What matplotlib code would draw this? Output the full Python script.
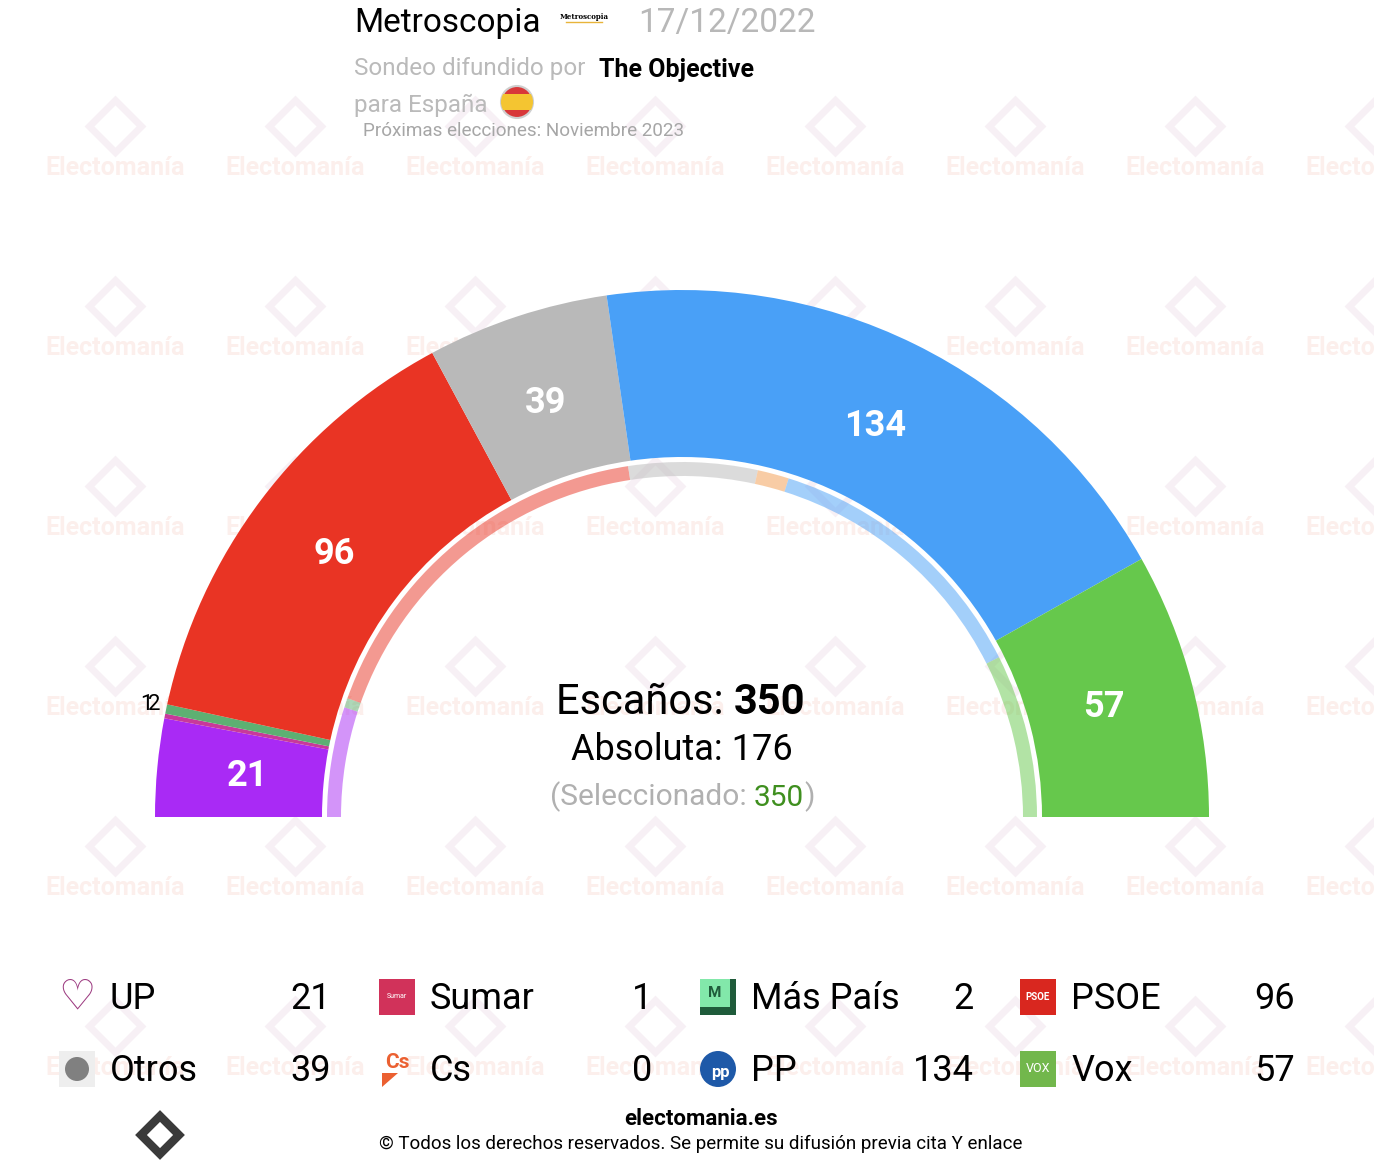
import matplotlib.pyplot as plt
from matplotlib.patches import Rectangle, Circle, Polygon
import numpy as np

plt.rcParams['font.family'] = ['Roboto', 'DejaVu Sans']

# seat data (left to right on the arc)
parties = ['UP', 'Sumar', 'Más País', 'PSOE', 'Otros', 'Cs', 'PP', 'Vox']
seats = [21, 1, 2, 96, 39, 0, 134, 57]
prev_seats = [35, 0, 3, 120, 41, 10, 89, 52]
colors = ['#A92AF5', '#C8399A', '#5DB072', '#E93424', '#B9B9B9', '#F29B4C', '#49A0F7', '#66C84C']

# legend layout order (two rows)
legend_rows = [['UP', 'Sumar', 'Más País', 'PSOE'], ['Otros', 'Cs', 'PP', 'Vox']]

total = sum(seats)
majority = total // 2 + 1

W, H = 1374, 1164
fig = plt.figure(figsize=(W / 100, H / 100), dpi=100)
ax = fig.add_axes([0, 0, 1, 1])


def Y(y):
    return H - y


cx, cy = 682, Y(817)

# watermark grid
for gx in range(115, 1400, 180):
    for gy in range(168, 1100, 180):
        ax.plot(gx, Y(gy - 42), marker='D', markersize=26, mfc='none',
                mec='#f7f0f5', mew=5, zorder=0)
        ax.text(gx, Y(gy), 'Electomanía', fontsize=18, fontweight='bold',
                color='#fcefec', ha='center', va='center', zorder=0, clip_on=True)

# outer ring: current seats
ax.pie(seats + [total], radius=527, center=(cx, cy), startangle=180, counterclock=False,
       colors=colors + ['none'], wedgeprops=dict(width=167, linewidth=0), frame=True)

# inner ring: previous result
ax.pie(prev_seats + [total], radius=355, center=(cx, cy), startangle=180, counterclock=False,
       colors=colors + ['none'], wedgeprops=dict(width=14, linewidth=0, alpha=0.5), frame=True)

# seat labels
cum = np.cumsum([0] + seats)
small = []
for i, s in enumerate(seats):
    if s == 0:
        continue
    mid = 180 - (cum[i] + s / 2) / total * 180
    a = np.radians(mid)
    if s >= 10:
        r = 436
        ax.text(cx + r * np.cos(a), cy + r * np.sin(a), str(s), color='white',
                fontsize=26, fontweight='bold', ha='center', va='center')
    else:
        small.append((a, s))
# tiny seats: labels just outside the arc, side by side
for k, (a, s) in enumerate(small):
    r = 536
    a0 = np.mean([q[0] for q in small])
    ax.text(cx + r * np.cos(a0) + 8 * k - 10, cy + r * np.sin(a0) + 6, str(s), color='black',
            fontsize=16, ha='center', va='center')

# centre text
t = ax.text(734, Y(702), 'Escaños: ', fontsize=30, ha='right', va='center')
ax.annotate(str(total), xy=(1, 0), xycoords=t, fontsize=30, fontweight='bold',
            ha='left', va='bottom')
ax.text(682, Y(750), f'Absoluta: {majority}', fontsize=26, ha='center', va='center')
t = ax.text(754, Y(797), '(Seleccionado: ', fontsize=21.5, color='#b0b0b0', ha='right', va='center')
t2 = ax.annotate(str(total), xy=(1, 0), xycoords=t, fontsize=21.5, color='#3f8f1f',
                 ha='left', va='bottom')
ax.annotate(')', xy=(1, 0), xycoords=t2, fontsize=21.5, color='#b0b0b0', ha='left', va='bottom')

# header
ax.text(354, Y(23), 'Metroscopia', fontsize=24, ha='left', va='center')
ax.text(584, Y(17), 'Metroscopia', fontsize=5, family='DejaVu Serif', fontweight='bold',
        ha='center', va='center')
ax.plot([566, 602], [Y(22), Y(22)], color='#e8b43a', lw=1)
ax.text(638, Y(23), '17/12/2022', fontsize=24, color='#b8b8b8', ha='left', va='center')
ax.text(354, Y(69), 'Sondeo difundido por', fontsize=17.5, color='#bababa', ha='left', va='center')
ax.text(599, Y(70), 'The Objective', fontsize=18, fontweight='bold', ha='left', va='center')
ax.text(354, Y(105), 'para España', fontsize=17.5, color='#bababa', ha='left', va='center')
flag = Circle((517, Y(102)), 16, fc='#D8383A', ec='#cfcfcf', lw=1.5)
ax.add_patch(flag)
band = Rectangle((500, Y(102) - 8), 34, 16, fc='#F4C531', ec='none')
ax.add_patch(band)
band.set_clip_path(flag)
ax.text(363, Y(131), 'Próximas elecciones: Noviembre 2023', fontsize=13.6, color='#a6a6a6',
        ha='left', va='center')

# legend
name_x = [110, 430, 751, 1071]
val_x = [331, 652, 974, 1295]
row_y = [999, 1071]
for ri, row in enumerate(legend_rows):
    for ci, p in enumerate(row):
        yy = Y(row_y[ri])
        ax.text(name_x[ci], yy, p, fontsize=26, ha='left', va='center')
        ax.text(val_x[ci], yy, str(seats[parties.index(p)]), fontsize=26, ha='right', va='center')
        ix = name_x[ci] - 33
        yy = Y(row_y[ri] - 2)
        if p == 'UP':
            ax.text(ix, yy, '♡', family='DejaVu Sans', fontsize=30, fontweight='bold',
                    color='#9c3a80', ha='center', va='center')
        elif p == 'Sumar':
            ax.add_patch(Rectangle((ix - 18, yy - 18), 36, 36, fc='#D1325A'))
            ax.text(ix, yy, 'Sumar', fontsize=5, color='white', ha='center', va='center')
        elif p == 'Más País':
            ax.add_patch(Rectangle((ix - 18, yy - 18), 36, 36, fc='#1F5B3B'))
            ax.add_patch(Rectangle((ix - 18, yy - 10), 30, 28, fc='#82E8AA'))
            ax.text(ix - 3, yy + 4, 'M', fontsize=11, fontweight='bold', color='#1F5B3B',
                    ha='center', va='center')
        elif p == 'PSOE':
            ax.add_patch(Rectangle((ix - 18, yy - 18), 36, 36, fc='#D9271F'))
            ax.text(ix, yy, 'PSOE', fontsize=7, fontweight='bold', color='white',
                    ha='center', va='center')
        elif p == 'Otros':
            ax.add_patch(Rectangle((ix - 18, yy - 18), 36, 36, fc='#eeeeee'))
            ax.add_patch(Circle((ix, yy), 12, fc='#808080'))
        elif p == 'Cs':
            ax.text(ix, yy + 7, 'Cs', fontsize=15, fontweight='bold', color='#EB6031',
                    ha='center', va='center')
            ax.add_patch(Polygon([(ix - 15, yy - 4), (ix + 1, yy - 4), (ix - 15, yy - 18)],
                                 fc='#EB6031'))
        elif p == 'PP':
            ax.add_patch(Circle((ix, yy), 18, fc='#1E59A8'))
            ax.text(ix + 2, yy - 3, 'pp', fontsize=12, fontweight='bold', color='white',
                    ha='center', va='center')
        elif p == 'Vox':
            ax.add_patch(Rectangle((ix - 18, yy - 18), 36, 36, fc='#72B74C'))
            ax.text(ix, yy, 'VOX', fontsize=9, color='white', ha='center', va='center')

# footer
ax.plot(160, Y(1135), marker='D', markersize=19, mfc='none', mec='#3a3a3a', mew=6)
ax.text(701, Y(1119), 'electomania.es', fontsize=16, fontweight='bold', ha='center', va='center')
ax.text(701, Y(1144), '© Todos los derechos reservados. Se permite su difusión previa cita Y enlace',
        fontsize=13.5, ha='center', va='center')

ax.set_xlim(0, W)
ax.set_ylim(0, H)
ax.set_aspect('auto')
ax.axis('off')

plt.savefig('out.png', dpi=100)
plt.close()
